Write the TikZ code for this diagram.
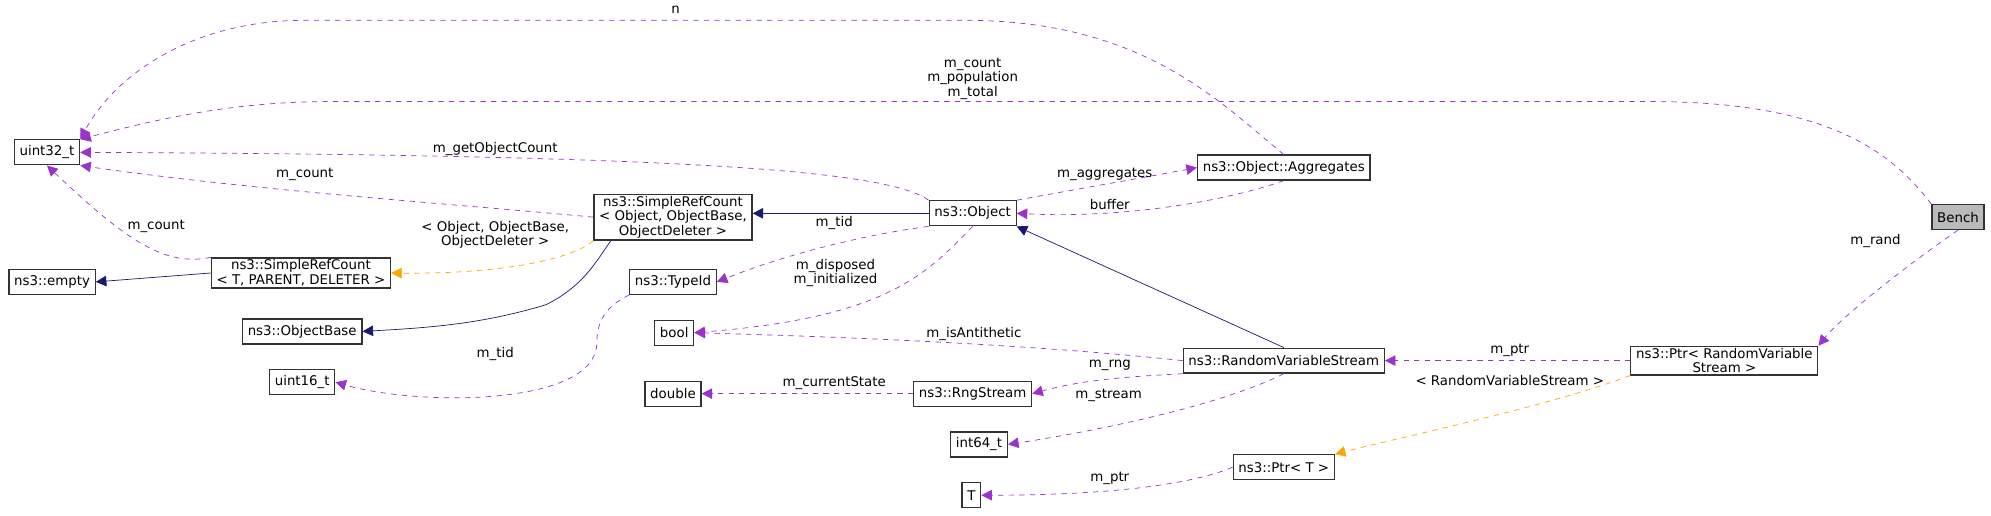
\documentclass[tikz,border=0pt]{standalone}
\usepackage{fontspec}
\setmainfont{DejaVu Sans}
\usepackage{tikz}
\usetikzlibrary{arrows.meta}

\definecolor{member}{HTML}{9A32CD}
\definecolor{tmpl}{HTML}{FFA500}
\definecolor{inher}{HTML}{191970}

\tikzset{
	cls/.style = {draw=black!80, line width=0.7pt, fill=white, inner xsep=3pt,
		inner ysep=1pt, minimum height=0.5cm, align=center,
		font=\fontsize{7.6}{8.4}\selectfont},
	lbl/.style = {align=center, inner sep=0pt, font=\fontsize{7.6}{8.4}\selectfont},
	use/.style = {draw=member, dashed, -{Triangle[length=6pt,width=6pt]}},
	inst/.style = {draw=tmpl, dashed, -{Triangle[length=6pt,width=6pt]}},
	base/.style = {draw=inher, -{Triangle[length=6pt,width=6pt]}}
}

\begin{document}
\begin{tikzpicture}[x=0.0254cm, y=-0.0254cm]
	\useasboundingbox (0,0) rectangle (1568,405.6);
	% classes
	\begin{scope}
		\node[cls] (uint) at (37,120) {uint32\_t};
		\node[cls] (empty) at (41,222) {ns3::empty};
		\node[cls] (srct) at (237,215) {ns3::SimpleRefCount\\\textless{} T, PARENT, DELETER \textgreater};
		\node[cls] (objbase) at (238,261) {ns3::ObjectBase};
		\node[cls] (uintb) at (238,301) {uint16\_t};
		\node[cls] (srco) at (530,171) {ns3::SimpleRefCount\\\textless{} Object, ObjectBase,\\ObjectDeleter \textgreater};
		\node[cls] (typeid) at (530,222) {ns3::TypeId};
		\node[cls] (bool) at (531,262) {bool};
		\node[cls] (double) at (530,310) {double};
		\node[cls] (int) at (771,350) {int64\_t};
		\node[cls] (T) at (765,390) {T};
		\node[cls] (object) at (766,168) {ns3::Object};
		\node[cls] (aggr) at (1011,132) {ns3::Object::Aggregates};
		\node[cls] (rvs) at (1011,284) {ns3::RandomVariableStream};
		\node[cls] (rng) at (766,310) {ns3::RngStream};
		\node[cls] (ptrt) at (1011,368) {ns3::Ptr\textless{} T \textgreater};
		\node[cls] (ptrr) at (1358,284) {ns3::Ptr\textless{} RandomVariable\\Stream \textgreater};
		\node[cls, fill=black!27] (bench) at (1542,171) {Bench};
	\end{scope}
	% inheritance
	\draw[base] (object.west) -- (srco.east |- object.west);
	\draw[base] (rvs.north) -- (object.south east);
	\draw[base] (srct.west) -- (empty.east);
	\draw[base] ([xshift=10pt]srco.south west) .. controls (470,205) and (460,225) .. (430,240)
		.. controls (380,255) and (340,258) .. (objbase.east);
	% template instances
	\draw[inst] (srco.south west) .. controls (450,205) and (390,216) .. (srct.east);
	\draw[inst] (ptrr.south west) .. controls (1220,320) and (1100,345) .. (ptrt.north east);
	% members
	\draw[use] (aggr.north) .. controls (960,80) and (900,16) .. (760,16)
		-- (240,16) .. controls (150,16) and (90,60) .. (uint.north east);
	\draw[use] (bench.north west) .. controls (1490,120) and (1440,80) .. (1300,80)
		-- (260,80) .. controls (180,80) and (120,95) .. (uint.north east);
	\draw[use] (object.north west) .. controls (700,135) and (550,122) .. (uint.east);
	\draw[use] (srco.west) .. controls (350,160) and (200,150) .. (uint.south east);
	\draw[use] (srct.north west) .. controls (130,210) and (100,190) .. (uint.south);
	\draw[use] (object.north east) .. controls (870,145) and (900,140) .. (aggr.west);
	\draw[use] (aggr.south) .. controls (960,160) and (880,172) .. (object.east);
	\draw[use] (object.south west) .. controls (680,185) and (620,200) .. (typeid.east);
	\draw[use] (object.south) .. controls (730,215) and (700,250) .. (bool.east);
	\draw[use] (rvs.west) .. controls (800,270) and (650,265) .. (bool.east);
	\draw[use] (typeid.south west) .. controls (480,240) and (470,250) .. (470,270)
		.. controls (470,320) and (330,320) .. (uintb.east);
	\draw[use] (rvs.south west) .. controls (880,297) and (850,300) .. (rng.east);
	\draw[use] (rng.west) -- (double.east);
	\draw[use] (rvs.south) .. controls (960,320) and (860,340) .. (int.east);
	\draw[use] (ptrr.west) -- (rvs.east);
	\draw[use] (bench.south) .. controls (1500,210) and (1450,250) .. (ptrr.north east);
	\draw[use] (ptrt.west) .. controls (930,385) and (850,390) .. (T.east);
	% labels
	\node[lbl] (ln) at (532,8) {n};
	\node[lbl] (lbench) at (766,62) {m\_count\\m\_population\\m\_total};
	\node[lbl] (lgoc) at (390,117) {m\_getObjectCount};
	\node[lbl] (lcnta) at (240,137) {m\_count};
	\node[lbl] (lcntb) at (123,178) {m\_count};
	\node[lbl] (laggr) at (870,137) {m\_aggregates};
	\node[lbl] (lbuf) at (874,161) {buffer};
	\node[lbl] (ltida) at (657,176) {m\_tid};
	\node[lbl] (ldisp) at (658,215) {m\_disposed\\m\_initialized};
	\node[lbl] (lanti) at (767,263) {m\_isAntithetic};
	\node[lbl] (ltidb) at (390,279) {m\_tid};
	\node[lbl] (lrng) at (874,288) {m\_rng};
	\node[lbl] (lcur) at (657,302) {m\_currentState};
	\node[lbl] (lstr) at (873,311) {m\_stream};
	\node[lbl] (lptra) at (1189,276) {m\_ptr};
	\node[lbl] (lrand) at (1477,190) {m\_rand};
	\node[lbl] (lrvs) at (1189,300) {\textless{} RandomVariableStream \textgreater};
	\node[lbl] (lobj) at (390,185) {\textless{} Object, ObjectBase,\\ObjectDeleter \textgreater};
	\node[lbl] (lptrb) at (874,377) {m\_ptr};
\end{tikzpicture}
\end{document}
